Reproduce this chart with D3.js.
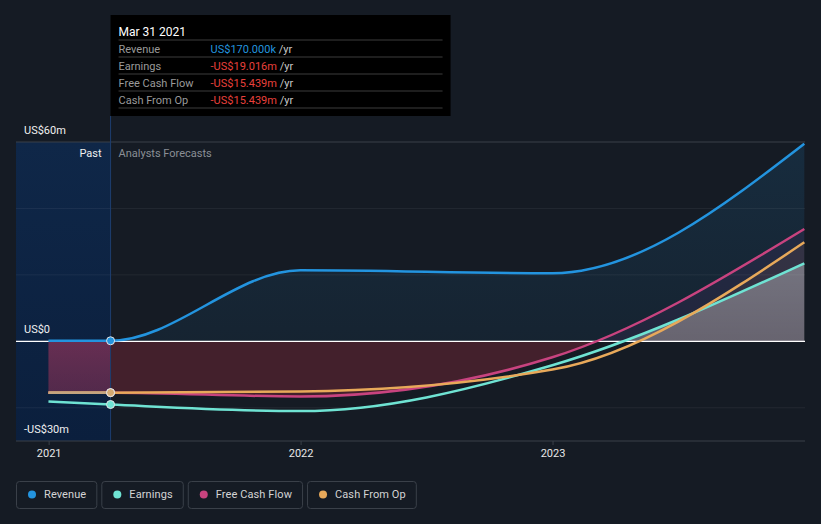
<!DOCTYPE html>
<html lang="en">
<head>
<meta charset="UTF-8">
<title>Revenue and earnings forecast</title>
<script src="https://d3js.org/d3.v7.min.js"></script>
<style>
  body { margin: 0; background: #151b24; font-family: Roboto, Arial, sans-serif; }
  svg { display: block; }
</style>
</head>
<body>
<svg width="821" height="524"></svg>
<script>
// ---- data (US$ millions) ----
const dates = ["2020-12-31", "2021-03-31", "2021-12-31", "2022-12-31", "2023-12-31"];
const revenue = [0.17, 0.17, 21.4, 20.5, 59.5];
const earnings = [-18.1, -19.016, -21.0, -7.2, 23.5];
const freeCashFlow = [-15.439, -15.439, -16.6, -4.8, 33.8];
const cashFromOp = [-15.439, -15.439, -15.1, -8.5, 29.8];
const yTicks = [-30, 0, 60];
const yGrid = [-20, 20, 40, 60];
const xTicks = ["2021-01-01", "2022-01-01", "2023-01-01"];
const pastEnd = "2021-03-31";
const tooltipRows = [
  ["Revenue", "US$170.000k", "#2394df"],
  ["Earnings", "-US$19.016m", "#e8403c"],
  ["Free Cash Flow", "-US$15.439m", "#e8403c"],
  ["Cash From Op", "-US$15.439m", "#e8403c"]
];
const legendItems = [
  ["Revenue", "#2394df"],
  ["Earnings", "#6fe3d3"],
  ["Free Cash Flow", "#c8437f"],
  ["Cash From Op", "#e8a95a"]
];

const parse = d3.timeParse("%Y-%m-%d");
const svg = d3.select("svg");
const mLeft = 16, mRight = 805, mTop = 142, mBottom = 441;

const x = d3.scaleTime().domain([parse("2020-11-14"), parse("2024-01-01")]).range([mLeft, mRight]);
const y = d3.scaleLinear().domain([-30, 60]).range([mBottom, mTop]);

const pts = vals => vals.map((v, i) => ({ d: parse(dates[i]), v }));
const xPast = x(parse(pastEnd));
const iPast = dates.indexOf(pastEnd);

// gradients
const defs = svg.append("defs");
function vgrad(id, stops) {
  const g = defs.append("linearGradient").attr("id", id).attr("x1", 0).attr("y1", 0).attr("x2", 0).attr("y2", 1);
  stops.forEach(s => g.append("stop").attr("offset", s[0]).attr("stop-color", s[1]).attr("stop-opacity", s[2]));
}
vgrad("pastBg", [[0, "#0f2748", 1], [1, "#0b1f3d", 1]]);
vgrad("pastNeg", [[0, "#d8436a", 0.62], [1, "#b04080", 0.18]]);
vgrad("earnPos", [[0, "#ffffff", 0.32], [1, "#ffffff", 0.2]]);
vgrad("revFill", [[0, "#2394df", 0.14], [1, "#2394df", 0.07]]);

defs.append("clipPath").attr("id", "pos").append("rect")
  .attr("x", mLeft).attr("y", mTop - 10).attr("width", mRight - mLeft).attr("height", y(0) - mTop + 10);
defs.append("clipPath").attr("id", "neg").append("rect")
  .attr("x", mLeft).attr("y", y(0)).attr("width", mRight - mLeft).attr("height", mBottom - y(0));
defs.append("clipPath").attr("id", "pastNegClip").append("rect")
  .attr("x", mLeft).attr("y", y(0)).attr("width", xPast - mLeft).attr("height", mBottom - y(0));
defs.append("clipPath").attr("id", "pastClip").append("rect")
  .attr("x", 0).attr("y", 0).attr("width", xPast).attr("height", 524);

// past region background
svg.append("rect").attr("x", mLeft).attr("y", mTop).attr("width", xPast - mLeft).attr("height", mBottom - mTop)
  .attr("fill", "url(#pastBg)");

const curve = d3.curveMonotoneX;
const area = d3.area().x(p => x(p.d)).y0(y(0)).y1(p => y(p.v)).curve(curve);
const line = d3.line().x(p => x(p.d)).y(p => y(p.v)).curve(curve);

// areas
svg.append("path").attr("d", area(pts(revenue))).attr("fill", "url(#revFill)").attr("clip-path", "url(#pos)");
svg.append("path").attr("d", area(pts(freeCashFlow))).attr("fill", "#9a40b0").attr("fill-opacity", 0.09).attr("clip-path", "url(#pos)");
svg.append("path").attr("d", area(pts(cashFromOp))).attr("fill", "#e8905a").attr("fill-opacity", 0.09).attr("clip-path", "url(#pos)");
svg.append("path").attr("d", area(pts(earnings))).attr("fill", "url(#earnPos)").attr("clip-path", "url(#pos)");
svg.append("path").attr("d", area(pts(freeCashFlow))).attr("fill", "#b03040").attr("fill-opacity", 0.3).attr("clip-path", "url(#neg)");
svg.append("path").attr("d", area(pts(freeCashFlow))).attr("fill", "url(#pastNeg)").attr("clip-path", "url(#pastNegClip)");

// gridlines
svg.selectAll(".grid").data(yGrid).join("line")
  .attr("x1", mLeft).attr("x2", mRight)
  .attr("y1", d => y(d)).attr("y2", d => y(d))
  .attr("stroke", d => d === 60 ? "#3a4049" : "#ffffff")
  .attr("stroke-opacity", d => d === 60 ? 1 : 0.06).attr("stroke-width", 1);

// past divider
svg.append("line").attr("x1", xPast).attr("x2", xPast).attr("y1", 116).attr("y2", mBottom)
  .attr("stroke", "#1d3d6e").attr("stroke-width", 1);

// zero line
svg.append("line").attr("x1", mLeft).attr("x2", mRight).attr("y1", y(0)).attr("y2", y(0))
  .attr("stroke", "#ffffff").attr("stroke-width", 1.2);

// x axis
svg.append("line").attr("x1", mLeft).attr("x2", mRight).attr("y1", mBottom).attr("y2", mBottom)
  .attr("stroke", "#3a4049");
const xt = svg.selectAll(".xt").data(xTicks.map(parse)).join("g")
  .attr("transform", d => `translate(${x(d)},${mBottom})`);
xt.append("line").attr("y2", 4).attr("stroke", "#3a4049");
xt.append("text").attr("y", 16).attr("text-anchor", "middle").attr("fill", "#e8e8e8")
  .style("font-size", "11px").text(d3.timeFormat("%Y"));

// y labels
const fmtY = v => v === 0 ? "US$0" : (v < 0 ? "-" : "") + "US$" + Math.abs(v) + "m";
svg.selectAll(".yl").data(yTicks).join("text")
  .attr("x", 24).attr("y", d => y(d) - 8)
  .attr("fill", "#f0f0f0").style("font-size", "11px").text(fmtY);

// lines
const series = [
  [revenue, "#2394df"],
  [earnings, "#6fe3d3"],
  [freeCashFlow, "#c8437f"],
  [cashFromOp, "#e8a95a"]
];
series.forEach(s => {
  svg.append("path").attr("d", line(pts(s[0]))).attr("fill", "none")
    .attr("stroke", s[1]).attr("stroke-width", 2.5);
});
// muted past segment of cash from op
svg.append("path").attr("d", line(pts(cashFromOp))).attr("fill", "none")
  .attr("stroke", "#c4a47e").attr("stroke-width", 2.6).attr("clip-path", "url(#pastClip)");

// markers at end of past
[[revenue, "#2394df"], [earnings, "#6fe3d3"], [freeCashFlow, "#c8437f"], [cashFromOp, "#d4aa72"]].forEach(s => {
  svg.append("circle").attr("cx", xPast).attr("cy", y(s[0][iPast])).attr("r", 4)
    .attr("fill", s[1]).attr("stroke", "#e6e6e6").attr("stroke-width", 1);
});

// past / forecast labels
svg.append("text").attr("x", xPast - 9).attr("y", mTop + 15).attr("text-anchor", "end")
  .attr("fill", "#f0f0f0").style("font-size", "11px").text("Past");
svg.append("text").attr("x", xPast + 8).attr("y", mTop + 15)
  .attr("fill", "#8a8f96").style("font-size", "11px").text("Analysts Forecasts");

// tooltip
const tip = svg.append("g").attr("transform", `translate(${xPast},15)`);
tip.append("rect").attr("width", 340).attr("height", 101).attr("fill", "#000");
tip.append("text").attr("x", 8).attr("y", 21).attr("fill", "#fff").style("font-size", "12px").text("Mar 31 2021");
tooltipRows.forEach((r, i) => {
  const yy = 25 + i * 17;
  tip.append("line").attr("x1", 8).attr("x2", 332).attr("y1", yy).attr("y2", yy).attr("stroke", "#3c3c3c");
  tip.append("text").attr("x", 8).attr("y", yy + 13).attr("fill", "#9a9a9a").style("font-size", "11px").text(r[0]);
  const t = tip.append("text").attr("x", 100).attr("y", yy + 13).style("font-size", "11px");
  t.append("tspan").attr("fill", r[2]).text(r[1]);
  t.append("tspan").attr("fill", "#c8c8c8").text(" /yr");
});
tip.append("line").attr("x1", 8).attr("x2", 332).attr("y1", 93).attr("y2", 93).attr("stroke", "#3c3c3c");

// legend
let lx = 16;
legendItems.forEach(it => {
  const g = svg.append("g").attr("transform", `translate(${lx},481)`);
  const txt = g.append("text").attr("x", 28).attr("y", 17).attr("fill", "#d4d4d4")
    .style("font-size", "11px").style("letter-spacing", "0.1px").text(it[0]);
  const w = txt.node().getComputedTextLength() + 38;
  g.insert("rect", "text").attr("x", 0.5).attr("y", 0.5).attr("width", w).attr("height", 27).attr("rx", 3)
    .attr("fill", "none").attr("stroke", "#3a4049");
  g.append("circle").attr("cx", 16).attr("cy", 13.5).attr("r", 4).attr("fill", it[1]);
  lx += w + 5;
});
</script>
</body>
</html>
